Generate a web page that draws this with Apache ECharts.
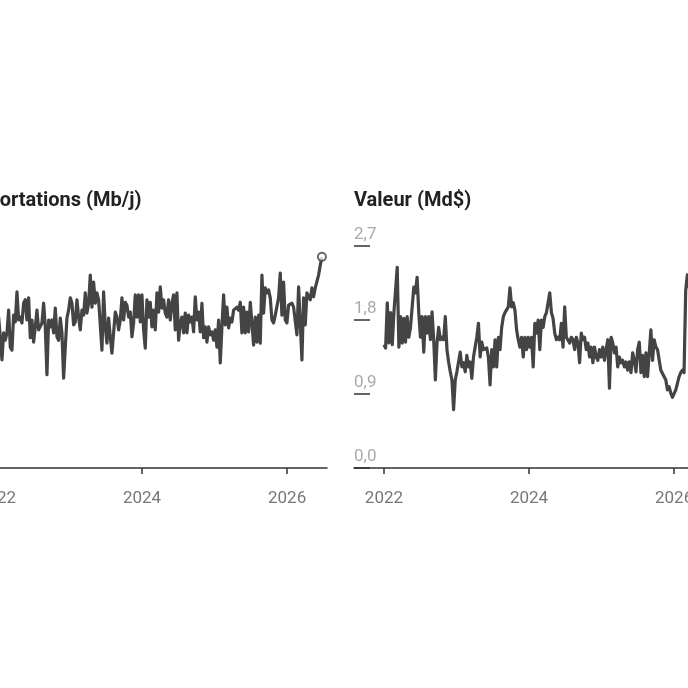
<!DOCTYPE html>
<html><head><meta charset="utf-8">
<script src="https://cdn.jsdelivr.net/npm/echarts@6/dist/echarts.min.js"></script>
<style>html,body{margin:0;padding:0;width:688px;height:688px;overflow:hidden;background:#fff}
#c{position:absolute;left:-40px;top:0;width:800px;height:688px}</style>
</head><body><div id="c"></div>
<script>
const titles = ['Exportations (Mb/j)', 'Valeur (Md$)'];
const xTickYears = [2022, 2024, 2026];
const startYear = 2022.0, endYear = 2026.48;
const volumeTicks = [0, 1.5, 3.0, 4.5];
const valueTicks = [0, 0.9, 1.8, 2.7];

const volume = [3.00,
3.06,2.66,2.19,2.74,2.59,2.74,3.20,2.45,2.39,3.10,2.96,3.57,3.00,3.06,2.94,3.34,3.41,3.00,3.45,2.64,3.00,2.55,2.86,3.20,2.80,2.80,2.94,3.34,2.86,1.89,3.00,2.86,3.00,2.74,3.24,2.66,2.59,3.04,2.74,1.82,2.45,3.04,3.20,3.45,3.34,2.90,2.96,3.41,3.06,2.80,3.20,3.10,3.55,3.14,3.34,3.91,3.26,3.77,3.34,3.55,3.41,3.45,2.39,3.57,2.86,2.53,3.04,2.66,2.33,
2.33,3.16,3.06,2.80,3.00,3.45,3.00,3.36,3.30,3.06,3.16,2.66,2.94,3.51,3.06,3.51,2.96,3.51,2.80,2.43,3.41,3.06,3.36,2.86,3.20,2.80,3.55,3.16,3.67,3.24,3.41,3.14,3.06,3.41,3.00,3.34,3.51,2.80,3.55,2.59,2.94,3.06,2.74,3.14,2.74,3.10,2.96,3.06,2.76,3.47,3.00,3.16,2.76,3.34,2.64,2.86,2.55,2.86,2.70,2.76,2.59,2.80,2.45,3.00,2.13,2.86,
3.51,2.90,3.26,2.84,3.04,2.96,3.20,3.16,3.26,3.20,3.36,2.74,3.26,2.74,3.16,2.76,3.36,2.94,2.49,3.06,2.55,3.10,2.53,3.91,3.14,3.65,3.55,3.61,3.45,3.00,2.94,3.10,3.10,3.45,3.95,3.10,3.77,3.00,2.94,3.30,3.26,3.34,3.26,3.30,2.70,3.67,2.94,2.19,3.45,2.90,3.55,3.57,3.41,3.65,3.47,3.65,3.67,3.91,4.11,4.28];

const value = [1.50,1.46,2.01,1.52,1.89,1.50,1.89,1.90,2.44,1.47,1.84,1.52,1.82,1.53,1.84,1.59,1.71,1.71,2.20,2.13,
2.32,1.89,1.59,1.84,1.41,1.84,1.64,1.84,1.56,1.90,1.56,1.07,1.52,1.71,1.56,1.59,1.56,1.84,1.44,1.29,
1.17,1.07,0.71,1.07,1.17,1.17,1.41,1.23,1.28,1.17,1.37,1.23,1.29,1.09,1.35,1.47,1.59,1.76,1.35,1.53,
1.44,1.44,1.46,1.35,1.01,1.44,1.23,1.56,1.23,1.59,1.44,1.71,1.84,1.89,1.89,1.96,2.19,1.96,2.01,1.92,
1.68,1.56,1.47,1.59,1.35,1.59,1.44,1.59,1.47,1.59,1.23,1.76,1.64,1.80,1.44,1.80,1.71,1.84,1.89,1.89,
2.13,1.89,1.82,1.64,1.56,1.59,1.56,1.76,1.47,1.96,1.59,1.58,1.52,1.59,1.56,1.44,1.59,1.52,1.28,1.64,
1.56,1.59,1.44,1.52,1.35,1.47,1.28,1.47,1.35,1.31,1.44,1.35,1.47,1.31,1.44,1.56,0.97,1.59,1.52,1.40,
1.47,1.23,1.35,1.28,1.31,1.23,1.29,1.19,1.29,1.16,1.40,1.31,1.17,1.44,1.53,1.16,1.37,1.11,1.40,1.11,
1.40,1.68,1.31,1.56,1.47,1.44,1.31,1.19,1.19,1.11,1.07,0.95,0.99,0.91,0.86,0.85,0.95,1.03,1.11,1.16,
1.19,1.16,2.16,
2.35,2.20,2.50,2.30,2.15,2.40,2.55,2.30,2.45,2.60,2.40,2.50,2.65,2.60];

function toPairs(arr) {
  const step = (endYear - startYear) / (arr.length - 1);
  return arr.map((v, i) => [startYear + i * step, v]);
}

const font = 'Roboto';
const xMin = 2021.587, xMax = 2026.55;
const grids = [
  {left: 7, top: 246, width: 360, height: 222},
  {left: 394, top: 246, width: 360, height: 222}
];
const yTicksList = [volumeTicks, valueTicks];
const seriesData = [volume, value];

const option = {
  animation: false,
  textStyle: {fontFamily: font},
  title: grids.map((g, i) => ({
    text: titles[i], left: g.left, top: 191, padding: 0,
    textStyle: {fontFamily: font, fontSize: 20, fontWeight: 'bold', color: '#222'}
  })),
  grid: grids,
  xAxis: grids.map((g, i) => ({
    type: 'value', gridIndex: i, min: xMin, max: xMax,
    splitLine: {show: false},
    axisLine: {show: true, lineStyle: {color: '#333', width: 1.5}},
    axisTick: {show: true, length: 6, customValues: xTickYears, lineStyle: {color: '#333', width: 1.5}},
    axisLabel: {customValues: xTickYears, formatter: v => String(Math.round(v)),
      color: '#777', fontSize: 17, margin: 22, fontFamily: font}
  })),
  yAxis: grids.map((g, i) => ({
    type: 'value', gridIndex: i, min: yTicksList[i][0],
    max: yTicksList[i][yTicksList[i].length - 1],
    interval: yTicksList[i][1] - yTicksList[i][0],
    splitLine: {show: false},
    axisLine: {show: false},
    axisTick: {show: true, inside: true, length: 16, lineStyle: {color: '#333', width: 1.5}},
    axisLabel: {inside: true, margin: 0, align: 'left', verticalAlign: 'bottom', padding: [0, 0, 3, 0],
      color: '#aaa', fontSize: 17, fontFamily: font,
      formatter: v => v.toFixed(1).replace('.', ',')}
  })),
  series: []
};
seriesData.forEach((arr, i) => {
  const pairs = toPairs(arr);
  option.series.push({
    type: 'line', xAxisIndex: i, yAxisIndex: i, data: pairs,
    showSymbol: false, symbol: 'none',
    lineStyle: {color: '#444', width: 3.2, join: 'round'}
  });
  option.series.push({
    type: 'scatter', xAxisIndex: i, yAxisIndex: i, data: [pairs[pairs.length - 1]],
    symbol: 'circle', symbolSize: 8, z: 5,
    itemStyle: {color: '#fff', borderColor: '#444', borderWidth: 2}
  });
});
const chart = echarts.init(document.getElementById('c'), null, {renderer: 'canvas'});
chart.setOption(option);
</script></body></html>
